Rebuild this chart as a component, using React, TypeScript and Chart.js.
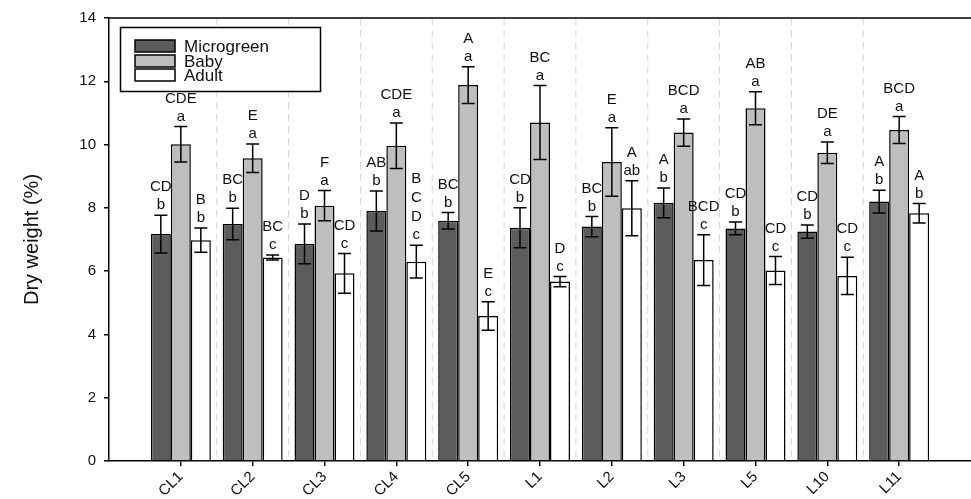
import React, { useEffect, useRef } from "react";
import { Chart, registerables } from "chart.js";

Chart.register(...registerables);

const categories = ["CL1", "CL2", "CL3", "CL4", "CL5", "L1", "L2", "L3", "L5", "L10", "L11"];
const seriesNames = ["Microgreen", "Baby", "Adult"];

const microgreen = [7.17, 7.49, 6.86, 7.9, 7.59, 7.37, 7.41, 8.16, 7.35, 7.25, 8.2];
const microgreenErr = [0.6, 0.5, 0.63, 0.63, 0.26, 0.63, 0.32, 0.47, 0.2, 0.21, 0.36];
const baby = [10.01, 9.57, 8.07, 9.96, 11.88, 10.7, 9.45, 10.38, 11.15, 9.74, 10.46];
const babyErr = [0.56, 0.45, 0.48, 0.72, 0.58, 1.17, 1.08, 0.43, 0.52, 0.34, 0.43];
const adult = [6.98, 6.43, 5.93, 6.3, 4.58, 5.67, 7.99, 6.35, 6.02, 5.85, 7.83];
const adultErr = [0.38, 0.08, 0.63, 0.52, 0.45, 0.16, 0.87, 0.8, 0.44, 0.59, 0.31];

const microgreenUpper = ["CD", "BC", "D", "AB", "BC", "CD", "BC", "A", "CD", "CD", "A"];
const microgreenLower = ["b", "b", "b", "b", "b", "b", "b", "b", "b", "b", "b"];
const babyUpper = ["CDE", "E", "F", "CDE", "A", "BC", "E", "BCD", "AB", "DE", "BCD"];
const babyLower = ["a", "a", "a", "a", "a", "a", "a", "a", "a", "a", "a"];
const adultUpper = ["B", "BC", "CD", "B\nC\nD", "E", "D", "A", "BCD", "CD", "CD", "A"];
const adultLower = ["b", "c", "c", "c", "c", "c", "ab", "c", "c", "c", "b"];

const yTicks = [0, 2, 4, 6, 8, 10, 12, 14];

const values = [microgreen, baby, adult];
const errors = [microgreenErr, babyErr, adultErr];
const uppers = [microgreenUpper, babyUpper, adultUpper];
const lowers = [microgreenLower, babyLower, adultLower];
const fills = ["#5c5c5c", "#bebebe", "#ffffff"];

const FONT = "'Liberation Sans', Arial, sans-serif";
const pad = (a: any[]) => [null, ...a, null];

const decorPlugin = {
  id: "decor",
  beforeDatasetsDraw(chart: any) {
    const { ctx, chartArea, scales } = chart;
    const x = scales.x;
    ctx.save();
    ctx.strokeStyle = "#d6d6d6";
    ctx.lineWidth = 1;
    ctx.setLineDash([7, 5]);
    for (let i = 1; i < categories.length; i++) {
      const px = (x.getPixelForValue(i) + x.getPixelForValue(i + 1)) / 2;
      ctx.beginPath();
      ctx.moveTo(px, chartArea.top);
      ctx.lineTo(px, chartArea.bottom);
      ctx.stroke();
    }
    ctx.restore();
  },
  afterDatasetsDraw(chart: any) {
    const { ctx, chartArea, scales } = chart;
    const y = scales.y;
    ctx.save();
    for (let d = 0; d < values.length; d++) {
      const meta = chart.getDatasetMeta(d);
      for (let j = 0; j < categories.length; j++) {
        const bar = meta.data[j + 1];
        if (!bar) continue;
        const v = values[d][j];
        const e = errors[d][j];
        const top = y.getPixelForValue(v + e);
        const bot = y.getPixelForValue(v - e);
        const cx = bar.x;
        ctx.strokeStyle = "#000";
        ctx.lineWidth = 1.5;
        ctx.setLineDash([]);
        ctx.beginPath();
        ctx.moveTo(cx, top);
        ctx.lineTo(cx, bot);
        ctx.moveTo(cx - 6.5, top);
        ctx.lineTo(cx + 6.5, top);
        ctx.moveTo(cx - 6.5, bot);
        ctx.lineTo(cx + 6.5, bot);
        ctx.stroke();

        ctx.fillStyle = "#111";
        ctx.font = `15px ${FONT}`;
        ctx.textAlign = "center";
        ctx.textBaseline = "middle";
        const lowY = top - 10;
        ctx.fillText(lowers[d][j], cx, lowY);
        const lines = uppers[d][j].split("\n");
        for (let k = 0; k < lines.length; k++) {
          const ly = lowY - 18 - (lines.length - 1 - k) * 19;
          ctx.fillText(lines[k], cx, ly);
        }
      }
    }
    ctx.strokeStyle = "#000";
    ctx.lineWidth = 1.5;
    ctx.beginPath();
    ctx.moveTo(chartArea.left, chartArea.top);
    ctx.lineTo(chartArea.right, chartArea.top);
    ctx.stroke();

    ctx.fillStyle = "#fff";
    ctx.fillRect(120, 27, 200, 64);
    ctx.strokeRect(120.5, 27.5, 200, 64);
    const rowY = [46, 61, 75];
    chart.data.datasets.forEach((ds: any, i: number) => {
      ctx.fillStyle = ds.backgroundColor;
      ctx.fillRect(135, rowY[i] - 6, 40, 12);
      ctx.strokeStyle = "#000";
      ctx.lineWidth = 1.5;
      ctx.strokeRect(135, rowY[i] - 6, 40, 12);
      ctx.fillStyle = "#111";
      ctx.font = `17px ${FONT}`;
      ctx.textAlign = "left";
      ctx.textBaseline = "middle";
      ctx.fillText(ds.label, 184, rowY[i] + 1);
    });
    ctx.restore();
  },
};

export default function App() {
  const ref = useRef<HTMLCanvasElement | null>(null);
  useEffect(() => {
    document.body.style.margin = "0";
    if (!ref.current) return;
    const chart = new Chart(ref.current, {
      type: "bar",
      data: {
        labels: ["", ...categories, ""],
        datasets: seriesNames.map((name, i) => ({
          label: name,
          data: pad(values[i]),
          backgroundColor: fills[i],
          borderColor: "#000",
          borderWidth: 1.5,
          categoryPercentage: 0.835,
          barPercentage: 1.0,
        })),
      },
      options: {
        responsive: false,
        animation: false,
        layout: { padding: { top: 18, left: 0, right: 0, bottom: 0 } },
        plugins: { legend: { display: false }, tooltip: { enabled: false } },
        scales: {
          x: {
            type: "category",
            offset: false,
            afterFit: (s: any) => {
              s.height = 38;
              s.paddingLeft = 0;
              s.paddingRight = 0;
            },
            grid: {
              display: true,
              drawOnChartArea: false,
              drawTicks: true,
              tickLength: 5,
              offset: false,
              lineWidth: 1.5,
              color: (c: any) =>
                c.index === 0 || c.index === categories.length + 1 ? "rgba(0,0,0,0)" : "#000",
            },
            border: { display: true, color: "#000", width: 1.5 },
            ticks: {
              autoSkip: false,
              maxRotation: 45,
              minRotation: 45,
              padding: 2,
              color: "#111",
              font: { family: FONT, size: 15 },
            },
          },
          y: {
            min: 0,
            max: 14,
            afterFit: (s: any) => {
              s.width = 109;
            },
            afterBuildTicks: (s: any) => {
              s.ticks = yTicks.map((v) => ({ value: v }));
            },
            grid: {
              display: true,
              drawOnChartArea: false,
              drawTicks: true,
              tickLength: 5,
              lineWidth: 1.5,
              color: "#000",
            },
            border: { display: true, color: "#000", width: 1.5 },
            ticks: {
              padding: 8,
              color: "#111",
              font: { family: FONT, size: 15 },
            },
            title: {
              display: true,
              text: "Dry weight (%)",
              color: "#111",
              font: { family: FONT, size: 20 },
              padding: { top: 20, bottom: 0 },
            },
          },
        },
      },
      plugins: [decorPlugin],
    } as any);
    return () => chart.destroy();
  }, []);
  return <canvas ref={ref} width={971} height={499} style={{ display: "block" }} />;
}
